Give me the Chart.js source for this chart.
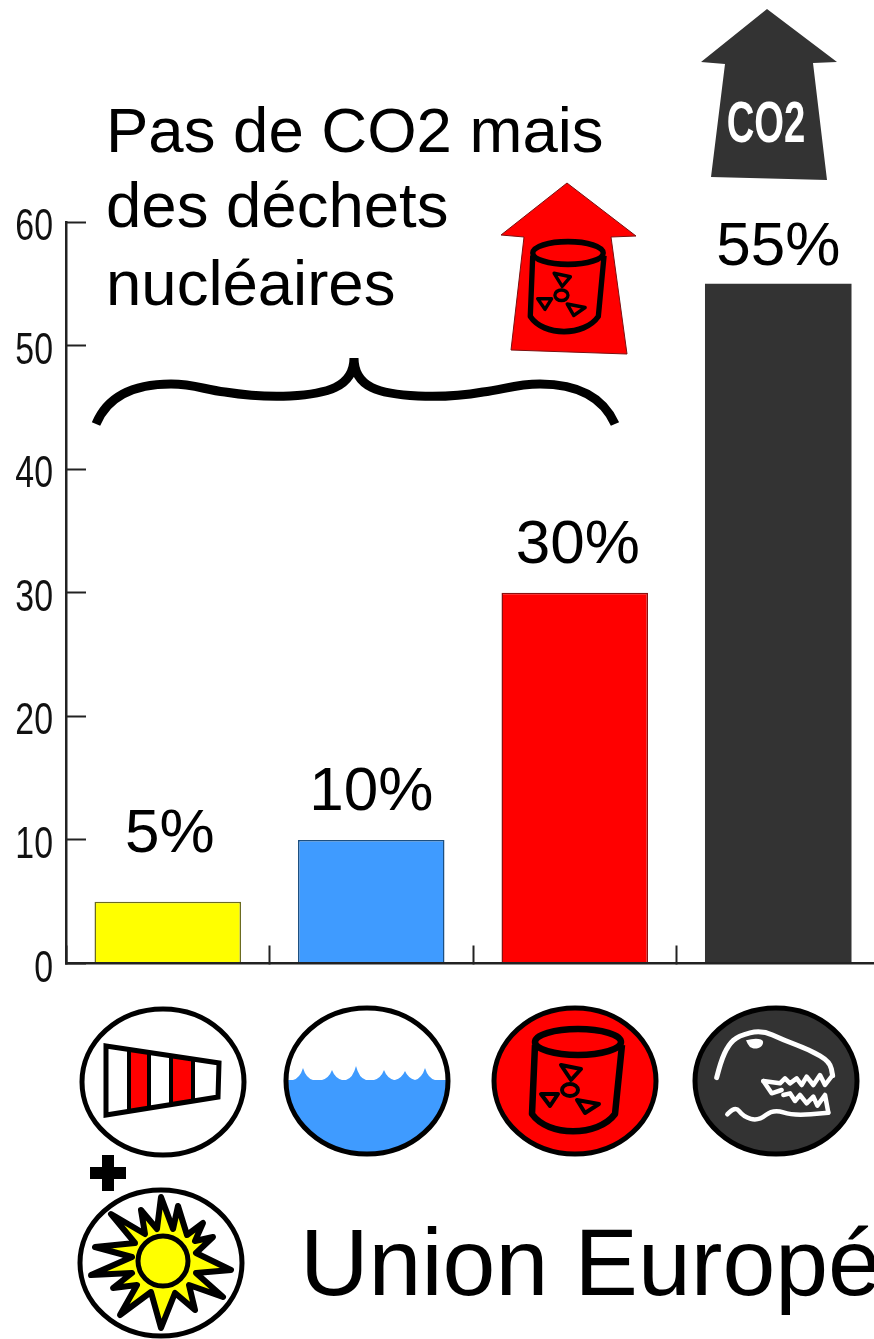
<!DOCTYPE html>
<html lang="fr">
<head>
<meta charset="utf-8">
<title>Union Européenne</title>
<script src="https://cdn.jsdelivr.net/npm/chart.js@4/dist/chart.umd.js"></script>
<style>
  html, body { margin: 0; background: #fff; overflow: hidden; }
  canvas { display: block; }
</style>
</head>
<body>
<canvas id="mychart" width="1100" height="1339"></canvas>
<script>
// data
var categories = ["Éolien + solaire", "Hydraulique", "Nucléaire", "Fossile"]
var shares = [5, 10, 30, 55]
var yTicks = [0, 10, 20, 30, 40, 50, 60]
var percentLabels = shares.map(function(v){ return v + "%" })

var barColors = ["#ffff00", "#3f9bff", "#ff0000", "#333333"]
var barEdges = ["#6b6b20", "#1d4f80", "#8a1010", "#333333"]
var barEdgeWidths = [1.5, 1.5, 1.5, 0]
// label shift from the top of each bar: [dx, baseline gap]
var labelShift = [[2, 50], [0, 30], [3, 30], [0, 19]]

var SANS = '"Liberation Sans", Arial, sans-serif'
var DARK = "#333333"

function poly(ctx, pts, close){
    ctx.beginPath()
    pts.forEach(function(p, i){
        if(i == 0) ctx.moveTo(p[0], p[1])
        else ctx.lineTo(p[0], p[1])
    })
    if(close) ctx.closePath()
}

// same as poly but rounds the corners off, for the hand drawn outlines
function smooth(ctx, pts){
    ctx.beginPath()
    ctx.moveTo(pts[0][0], pts[0][1])
    for(var i = 1; i < pts.length - 1; i++){
        ctx.quadraticCurveTo(pts[i][0], pts[i][1], (pts[i][0] + pts[i + 1][0]) / 2, (pts[i][1] + pts[i + 1][1]) / 2)
    }
    var last = pts[pts.length - 1]
    ctx.lineTo(last[0], last[1])
}

// text squeezed sideways, there is no condensed face installed
function narrowText(ctx, txt, x, y, sx){
    ctx.save()
    ctx.translate(x, y)
    ctx.scale(sx, 1)
    ctx.fillText(txt, 0, 0)
    ctx.restore()
}

function badge(ctx, cx, cy, rx, ry, fill){
    ctx.beginPath()
    ctx.ellipse(cx, cy, rx, ry, 0, 0, Math.PI * 2)
    ctx.fillStyle = fill
    ctx.fill()
    ctx.lineWidth = 5
    ctx.strokeStyle = "#000"
    ctx.stroke()
}

// radioactive barrel, origin is the middle of the lid
function barrel(ctx, x, y, sx, sy){
    ctx.save()
    ctx.translate(x, y)
    ctx.scale(sx, sy)
    ctx.strokeStyle = "#000"
    ctx.lineJoin = "round"
    ctx.lineWidth = 6.5
    ctx.beginPath()
    ctx.ellipse(0, 0, 43, 13, 0, 0, Math.PI * 2)
    ctx.stroke()
    ctx.beginPath()
    ctx.moveTo(-43, 3)
    ctx.lineTo(-46, 72)
    ctx.bezierCurveTo(-30, 95, 20, 95, 37, 72)
    ctx.lineTo(44, 3)
    ctx.stroke()
    ctx.lineWidth = 4
    ctx.beginPath()
    ctx.ellipse(-8, 48, 8, 6, 0, 0, Math.PI * 2)
    ctx.stroke()
    poly(ctx, [[-17, 23], [3, 27], [-7, 38]], true)
    ctx.stroke()
    poly(ctx, [[-37, 52], [-20, 52], [-28, 64]], true)
    ctx.stroke()
    poly(ctx, [[-1, 58], [21, 62], [7, 71]], true)
    ctx.stroke()
    ctx.restore()
}

function windsock(ctx){
    var top = function(x){ return 1046 + (x - 106) * 17 / 113 }
    var bot = function(x){ return 1115 - (x - 106) * 18 / 112 }
    ctx.fillStyle = "#ff0000"
    ;[[129, 149], [171, 193]].forEach(function(b){
        poly(ctx, [[b[0], top(b[0])], [b[1], top(b[1])], [b[1], bot(b[1])], [b[0], bot(b[0])]], true)
        ctx.fill()
    })
    ctx.strokeStyle = "#000"
    ctx.lineWidth = 4
    ;[129, 149, 171, 193].forEach(function(x){
        ctx.beginPath()
        ctx.moveTo(x, top(x))
        ctx.lineTo(x, bot(x))
        ctx.stroke()
    })
    ctx.lineWidth = 5
    poly(ctx, [[106, 1046], [219, 1063], [218, 1097], [106, 1115]], true)
    ctx.stroke()
}

function water(ctx, cx, cy, rx, ry){
    var peaks = [[303, 1068], [332, 1070], [356, 1066], [384, 1070], [405, 1071], [425, 1068]]
    var base = 1080
    ctx.save()
    ctx.beginPath()
    ctx.ellipse(cx, cy, rx, ry, 0, 0, Math.PI * 2)
    ctx.clip()
    ctx.beginPath()
    ctx.moveTo(cx - rx, base)
    peaks.forEach(function(p){
        ctx.lineTo(p[0] - 10, base)
        ctx.quadraticCurveTo(p[0] - 3, base - 2, p[0], p[1])
        ctx.quadraticCurveTo(p[0] + 3, base - 2, p[0] + 10, base)
    })
    ctx.lineTo(cx + rx, base)
    ctx.lineTo(cx + rx, cy + ry)
    ctx.lineTo(cx - rx, cy + ry)
    ctx.closePath()
    ctx.fillStyle = "#3f9bff"
    ctx.fill()
    ctx.restore()
    ctx.beginPath()
    ctx.ellipse(cx, cy, rx, ry, 0, 0, Math.PI * 2)
    ctx.lineWidth = 5
    ctx.strokeStyle = "#000"
    ctx.stroke()
}

function sun(ctx, cx, cy){
    // ray tips and the notch that follows each one
    var outline = [[-2, -64], [10, -32], [15, -55], [24, -26], [40, -38], [32, -20], [50, -24], [33, -8],
                   [68, 9], [33, 12], [60, 36], [26, 24], [32, 49], [12, 32], [-2, 67], [-12, 31],
                   [-43, 54], [-26, 24], [-50, 27], [-31, 12], [-72, 14], [-31, -4], [-68, -14], [-28, -18],
                   [-52, -47], [-18, -27], [-22, -51], [-6, -32]]
    poly(ctx, outline.map(function(p){ return [cx + p[0], cy + p[1]] }), true)
    ctx.fillStyle = "#ffff00"
    ctx.fill()
    ctx.lineWidth = 6
    ctx.lineJoin = "round"
    ctx.strokeStyle = "#000"
    ctx.stroke()
    ctx.beginPath()
    ctx.arc(cx, cy, 25, 0, Math.PI * 2)
    ctx.fillStyle = "#ffff00"
    ctx.fill()
    ctx.lineWidth = 5
    ctx.stroke()
}

function dino(ctx){
    var p = function(list){ return list.map(function(q){ return [700 + q[0] / 3, 1015 + q[1] / 3] }) }
    ctx.strokeStyle = "#fff"
    ctx.fillStyle = "#fff"
    ctx.lineWidth = 5
    ctx.lineJoin = "round"
    ctx.lineCap = "round"
    smooth(ctx, p([[50, 188], [62, 140], [85, 90], [115, 62], [185, 45], [250, 75], [330, 105], [390, 140], [398, 182]]))
    ctx.stroke()
    smooth(ctx, p([[138, 76], [160, 70], [192, 74], [186, 96], [165, 102], [148, 96], [138, 76]]))
    ctx.fill()
    // upper teeth
    ctx.lineWidth = 4.5
    poly(ctx, p([[190, 198], [240, 205], [255, 190], [270, 205], [290, 190], [305, 210], [320, 185], [340, 210], [360, 180], [375, 210], [398, 180]]))
    ctx.stroke()
    poly(ctx, p([[190, 198], [215, 235], [245, 225]]))
    ctx.stroke()
    // lower teeth
    poly(ctx, p([[250, 240], [270, 235], [285, 258], [300, 240], [320, 265], [340, 245], [352, 272], [375, 240], [385, 293]]))
    ctx.stroke()
    // jaw line
    smooth(ctx, p([[82, 298], [105, 272], [130, 305], [175, 318], [220, 282], [280, 302], [385, 293]]))
    ctx.stroke()
    ctx.lineCap = "butt"
}

// everything around the bars: captions, arrows, brace and the source badges
var decorations = {
    id: "decorations",
    afterDraw: function(chart){
        var ctx = chart.ctx
        var xs = chart.scales.x
        var ys = chart.scales.y
        ctx.save()

        // value axis numbers, squeezed
        ctx.fillStyle = "#111"
        ctx.font = "44px " + SANS
        ctx.textAlign = "right"
        yTicks.forEach(function(v){
            narrowText(ctx, String(v), 53, ys.getPixelForValue(v) + 18, 0.77)
        })

        // bar captions come from the same values as the bars
        ctx.fillStyle = "#000"
        ctx.font = "62px " + SANS
        ctx.textAlign = "center"
        percentLabels.forEach(function(txt, i){
            ctx.fillText(txt, xs.getPixelForValue(i) + labelShift[i][0], ys.getPixelForValue(shares[i]) - labelShift[i][1])
        })

        ctx.textAlign = "left"
        ctx.font = "63.5px " + SANS
        ctx.fillText("Pas de CO2 mais", 106, 152)
        ctx.fillText("des déchets", 106, 227)
        ctx.fillText("nucléaires", 106, 305)
        ctx.font = "95px " + SANS
        ctx.fillText("Union Européenne", 300, 1295)

        // brace
        ctx.strokeStyle = "#000"
        ctx.lineWidth = 9
        ctx.lineCap = "butt"
        ctx.beginPath()
        ctx.moveTo(96, 424)
        ctx.bezierCurveTo(108, 395, 135, 384, 171, 384)
        ctx.bezierCurveTo(195, 384, 205, 390, 225, 392)
        ctx.bezierCurveTo(250, 396, 270, 397, 290, 396)
        ctx.bezierCurveTo(325, 394, 354, 388, 354, 358)
        ctx.bezierCurveTo(354, 388, 380, 394, 418, 396)
        ctx.bezierCurveTo(438, 397, 460, 396, 483, 392)
        ctx.bezierCurveTo(503, 390, 515, 384, 540, 384)
        ctx.bezierCurveTo(575, 384, 602, 395, 615, 424)
        ctx.stroke()

        // dark arrow
        poly(ctx, [[767, 9], [837, 62], [813, 63], [827, 180], [711, 177], [725, 64], [701, 62]], true)
        ctx.fillStyle = DARK
        ctx.fill()
        ctx.fillStyle = "#fff"
        ctx.textAlign = "center"
        ctx.font = "bold 58px " + SANS
        narrowText(ctx, "CO2", 766, 142, 0.66)

        // red arrow
        poly(ctx, [[567, 183], [636, 236], [611, 237], [627, 354], [511, 350], [524, 237], [501, 235]], true)
        ctx.fillStyle = "#ff0000"
        ctx.fill()
        ctx.lineWidth = 1
        ctx.strokeStyle = "#7a1010"
        ctx.stroke()
        barrel(ctx, 568, 253, 0.82, 0.88)

        // source badges
        badge(ctx, 163, 1082, 81, 73, "#fff")
        windsock(ctx)
        water(ctx, 367, 1081, 81, 73)
        badge(ctx, 575, 1081, 81, 73, "#ff0000")
        barrel(ctx, 578, 1042, 1, 1)
        badge(ctx, 776, 1081, 81, 73, DARK)
        dino(ctx)
        badge(ctx, 161, 1263, 81, 73, "#fff")
        sun(ctx, 163, 1261)

        // plus sign
        ctx.fillStyle = "#000"
        ctx.fillRect(102, 1155, 12, 36)
        ctx.fillRect(90, 1167, 36, 12)

        ctx.restore()
    }
}

var mychart = document.getElementById("mychart").getContext("2d")

var chart = new Chart(mychart, {
    type: "bar",
    data: {
        labels: categories,
        datasets: [{
            data: shares,
            backgroundColor: barColors,
            borderColor: barEdges,
            borderWidth: barEdgeWidths,
            barPercentage: 0.72,
            categoryPercentage: 1
        }]
    },
    options: {
        responsive: false,
        animation: false,
        layout: { padding: { left: 0, top: 222, right: 220, bottom: 375.5 } },
        plugins: { legend: { display: false }, tooltip: { enabled: false } },
        scales: {
            x: {
                afterFit: function(scale){ scale.height = 0 },
                border: { color: "#222", width: 2.5, z: 1 },
                grid: { drawOnChartArea: false, tickLength: -18, tickColor: "#222", tickWidth: 2 },
                ticks: { display: false }
            },
            y: {
                min: 0,
                max: 60,
                afterBuildTicks: function(scale){
                    scale.ticks = yTicks.map(function(v){ return { value: v } })
                },
                afterFit: function(scale){ scale.width = 66 },
                border: { color: "#222", width: 2.5, z: 1 },
                grid: { drawOnChartArea: false, tickLength: -20, tickColor: "#222", tickWidth: 2 },
                ticks: { display: false }
            }
        }
    },
    plugins: [decorations]
})
</script>
</body>
</html>
